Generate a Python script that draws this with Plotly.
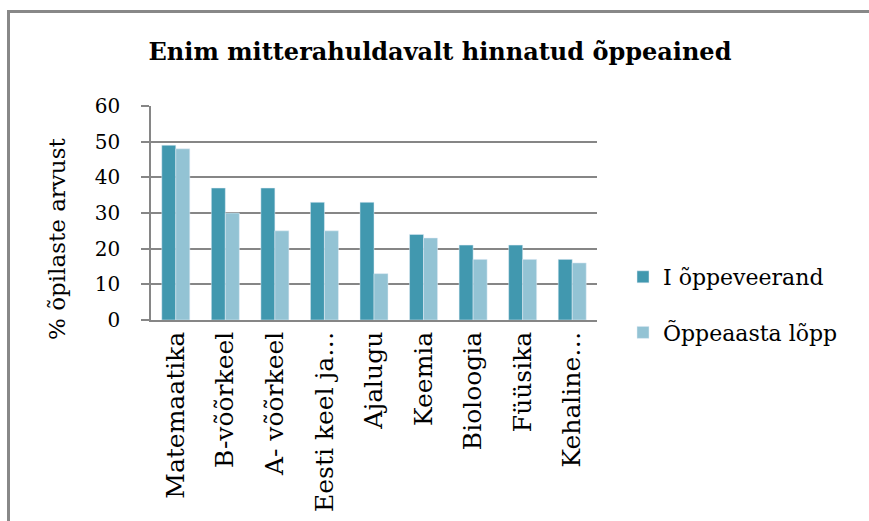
import plotly.graph_objects as go

categories = ["Matemaatika", "B-võõrkeel", "A- võõrkeel", "Eesti keel ja…", "Ajalugu",
              "Keemia", "Bioloogia", "Füüsika", "Kehaline…"]
series1_name = "I õppeveerand"
series1 = [49, 37, 37, 33, 33, 24, 21, 21, 17]
series2_name = "Õppeaasta lõpp"
series2 = [48, 30, 25, 25, 13, 23, 17, 17, 16]
y_ticks = [0, 10, 20, 30, 40, 50, 60]
y_title = "% õpilaste arvust"

W, H = 869, 521
L, R, T, B = 151, 597, 106, 320

font_family = "DejaVu Serif"

fig = go.Figure()
fig.add_trace(go.Bar(x=categories, y=series1, name=series1_name,
                     marker_color="#4198AF", legendgroup="a"))
fig.add_trace(go.Bar(x=categories, y=series2, name=series2_name,
                     marker_color="#93C3D4", legendgroup="b"))

pw, ph = R - L, B - T
border = dict(color="#888888", width=3)
# left and top edges of the outer chart frame
fig.add_shape(type="line", xref="paper", yref="paper",
              x0=(8.5 - L) / pw, x1=(8.5 - L) / pw,
              y0=(B - (H + 10)) / ph, y1=(B - 10) / ph, line=border, layer="below")
fig.add_shape(type="line", xref="paper", yref="paper",
              x0=(7 - L) / pw, x1=(W + 10 - L) / pw,
              y0=(B - 11.5) / ph, y1=(B - 11.5) / ph, line=border, layer="below")

fig.add_annotation(text=y_title, textangle=-90, xref="paper", yref="paper",
                   x=(57 - L) / pw, y=(B - 239) / ph, xanchor="center", yanchor="middle",
                   showarrow=False, font=dict(size=23, family=font_family, color="black"))

fig.update_layout(
    width=W, height=H,
    margin=dict(l=L, r=W - R, t=T, b=H - B, autoexpand=False),
    paper_bgcolor="white", plot_bgcolor="white",
    barmode="group", bargap=0.435, bargroupgap=0,
    title=dict(text="<b>Enim mitterahuldavalt hinnatud õppeained</b>",
               x=440 / W, xanchor="center", y=1 - 52 / H, yanchor="middle",
               font=dict(family=font_family, size=24, color="black")),
    font=dict(family=font_family, color="black"),
    xaxis=dict(tickangle=-90, tickfont=dict(size=25, family=font_family),
               showline=True, linecolor="#868686", linewidth=1.5,
               ticks="", showgrid=False, automargin=False),
    yaxis=dict(range=[0, 60], tickvals=y_ticks, tickfont=dict(size=20, family=font_family),
               showgrid=True, gridcolor="#868686", gridwidth=1.5,
               showline=True, linecolor="#868686", linewidth=1.5,
               ticks="outside", ticklen=8, tickcolor="#868686", tickwidth=1.5,
               ticklabelstandoff=17, automargin=False,
               zeroline=False),
    legend=dict(x=(623 - L) / pw, xanchor="left", y=(B - 256) / ph, yanchor="top",
                font=dict(size=22, family=font_family), tracegroupgap=24,
                traceorder="grouped", bgcolor="rgba(0,0,0,0)"),
    showlegend=True,
)

fig.write_html("out.html", config={"displayModeBar": False},
               post_script=("document.body.style.margin='0';"
                            "document.body.style.overflow='hidden';"
                            "document.documentElement.style.overflow='hidden';"))
